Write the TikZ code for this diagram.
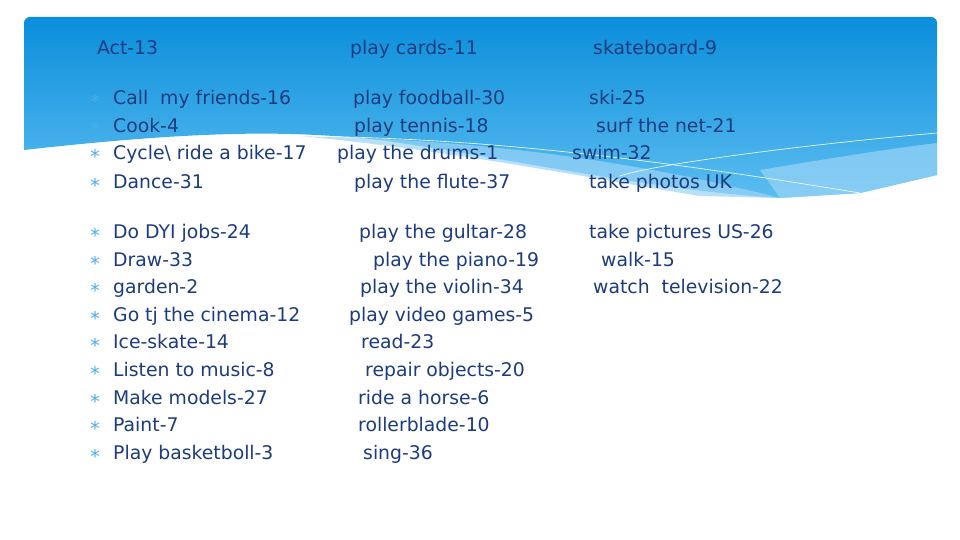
\documentclass[tikz,border=0pt]{standalone}
\usepackage{fontspec}
\setmainfont{DejaVu Sans}
\begin{document}
\begin{tikzpicture}[x=1pt,y=-1pt,
  t/.style={anchor=base west,inner sep=0pt,text=txt,font=\fontsize{18.8}{20}\selectfont},
  b/.style={anchor=base,inner sep=0pt,text=bul,font=\fontsize{19}{20}\selectfont}]
\definecolor{txt}{HTML}{1D3C7E}
\definecolor{bul}{HTML}{4AAEE6}
\definecolor{topb}{HTML}{0A8EDC}
\definecolor{botb}{HTML}{5BBDF0}
\definecolor{lite}{HTML}{9AD4F7}
\useasboundingbox (0,0) rectangle (960,540);
\fill[white] (0,0) rectangle (960,540);
% band
\shade[top color=topb,bottom color=botb]
  (24,150) [rounded corners=6pt] -- (24,17) -- (937,17) [sharp corners] -- (937,175)
  -- (860,193) -- (780,198) .. controls (650,190) and (520,160) .. (380,140)
  .. controls (300,132) and (220,128) .. (24,150) -- cycle;
% lighter wave
\fill[lite,opacity=0.7] (300,136) .. controls (500,140) and (650,165) .. (780,198)
  -- (700,196) .. controls (600,180) and (450,150) .. (300,136) -- cycle;
\fill[lite,opacity=0.7] (937,143) .. controls (880,150) and (820,160) .. (760,170)
  -- (780,198) -- (860,193) -- (937,175) -- cycle;
\draw[white,line width=0.6] (300,136) .. controls (450,138) and (600,150) .. (860,193);
\draw[white,line width=0.6] (937,133) .. controls (800,145) and (650,165) .. (620,176);
% texts
\node[t] (h1) at (97,55) {Act-13};
\node[t] (h2) at (350,55) {play cards-11};
\node[t] (h3) at (593,55) {skateboard-9};
\foreach \y/\a/\ax/\bb/\bx/\c/\cx [count=\i] in {
 98/{Call\ \ my friends-16}/113/{play foodball-30}/353/{ski-25}/589,
 126/{Cook-4}/113/{play tennis-18}/354/{surf the net-21}/596,
 153/{Cycle\textbackslash\ ride a bike-17}/113/{play the drums-1}/337/{swim-32}/572,
 181/{Dance-31}/113/{play the flute-37}/354/{take photos UK}/589,
 231/{Do DYI jobs-24}/113/{play the gultar-28}/359/{take pictures US-26}/589,
 259/{Draw-33}/113/{play the piano-19}/373/{walk-15}/601,
 286/{garden-2}/113/{play the violin-34}/360/{watch\ \ television-22}/593,
 314/{Go tj the cinema-12}/113/{play video games-5}/349/{}/593,
 341/{Ice-skate-14}/113/{read-23}/361/{}/593,
 369/{Listen to music-8}/113/{repair objects-20}/365/{}/593,
 397/{Make models-27}/113/{ride a horse-6}/358/{}/593,
 424/{Paint-7}/113/{rollerblade-10}/358/{}/593,
 452/{Play basketboll-3}/113/{sing-36}/363/{}/593}{
  \node[b] (s\i) at (95,\y+11) {*};
  \node[t] (a\i) at (\ax,\y+7) {\a};
  \node[t] (b\i) at (\bx,\y+7) {\bb};
  \node[t] (c\i) at (\cx,\y+7) {\c};
}
\end{tikzpicture}
\end{document}
